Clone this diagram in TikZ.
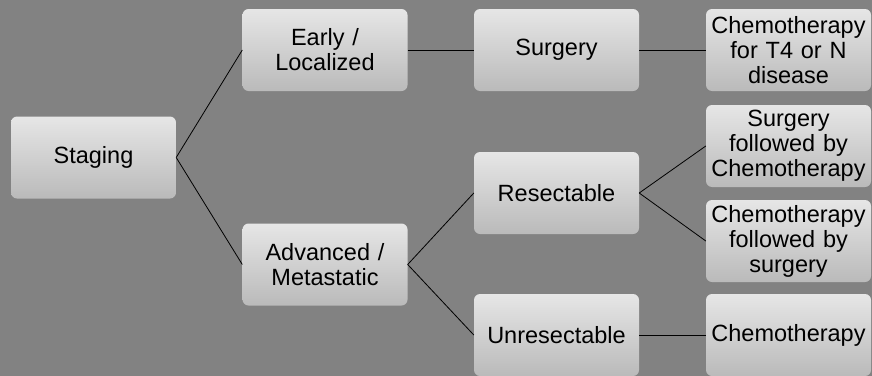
\documentclass[tikz,border=0pt]{standalone}
\usepackage{fontspec}
\setmainfont{Liberation Sans}
\definecolor{bggray}{RGB}{130,130,130}
\definecolor{boxtop}{RGB}{230,230,230}
\definecolor{boxbot}{RGB}{186,186,186}
\begin{document}
\begin{tikzpicture}[x=1pt,y=-1pt,
  box/.style={rectangle, rounded corners=6pt, minimum width=165pt, minimum height=82pt,
    text width=165pt, align=center, inner sep=0pt, top color=boxtop, bottom color=boxbot,
    font=\fontsize{23.5}{25}\selectfont},
  link/.style={draw=black, line width=0.8pt}]
\useasboundingbox (0,0) rectangle (872,375);
\fill[bggray] (-1,-1) rectangle (873,376);
\node[box] (staging) at (93.5,157.5) {Staging};
\node[box] (early) at (325,50) {Early /\\Localized};
\node[box] (adv) at (325,264.5) {Advanced /\\Metastatic};
\node[box] (surg) at (556.5,50) {Surgery};
\node[box] (resect) at (556.5,193) {Resectable};
\node[box] (unres) at (556.5,335) {Unresectable};
\node[box] (t4) at (788.5,50) {Chemotherapy\\for T4 or N\\disease};
\node[box] (sfc) at (788.5,146) {Surgery\\followed by\\Chemotherapy};
\node[box] (cfs) at (788.5,241) {Chemotherapy\\followed by\\surgery};
\node[box] (chemo) at (788.5,335) {Chemotherapy};
\draw[link] (staging.east) -- (early.west);
\draw[link] (staging.east) -- (adv.west);
\draw[link] (early.east) -- (surg.west);
\draw[link] (surg.east) -- (t4.west);
\draw[link] (adv.east) -- (resect.west);
\draw[link] (adv.east) -- (unres.west);
\draw[link] (resect.east) -- (sfc.west);
\draw[link] (resect.east) -- (cfs.west);
\draw[link] (unres.east) -- (chemo.west);
\end{tikzpicture}
\end{document}
